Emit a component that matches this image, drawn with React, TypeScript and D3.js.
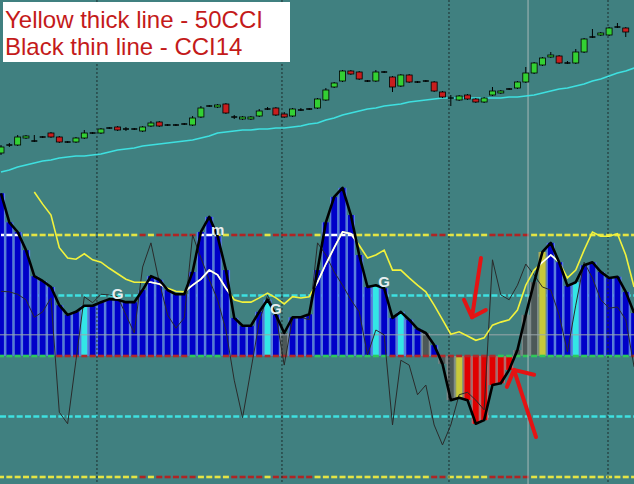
import React from "react";
import * as d3 from "d3";

const width = 634;
const height = 484;

// top pane candles (price units, bigger = higher)
const candleOpen = [17, 25, 25, 32, 29, 33, 37, 33, 28, 28, 32, 37, 37, 42, 43, 41, 41, 39, 44, 48, 45, 45, 46, 45, 53, 64, 63, 66, 53, 51, 51, 54, 61, 62, 56, 54, 60, 61, 62, 70, 83, 89, 99, 98, 89, 89, 98, 93, 84, 95, 88, 89, 88, 78, 72, 70, 75, 71, 68, 75, 77, 81, 82, 88, 97, 105, 113, 114, 107, 107, 118, 133, 135, 135, 143, 142];
const candleClose = [23, 25, 33, 34, 29, 33, 33, 28, 28, 32, 37, 37, 41, 42, 40, 41, 41, 43, 47, 44, 45, 45, 46, 52, 62, 64, 65, 57, 53, 53, 53, 59, 61, 55, 53, 61, 60, 61, 71, 80, 87, 99, 96, 91, 89, 98, 98, 83, 95, 88, 88, 89, 79, 73, 72, 74, 71, 68, 72, 79, 79, 81, 88, 97, 107, 112, 115, 107, 107, 118, 131, 133, 137, 142, 143, 138];
const candleHigh = [25, 27, 35, 35, 35, 34, 38, 34, 29, 33, 40, 38, 42, 43, 44, 43, 42, 44, 49, 49, 46, 46, 47, 54, 64, 65, 66, 67, 55, 54, 54, 61, 63, 63, 58, 62, 62, 62, 72, 82, 88, 100, 100, 99, 90, 100, 99, 94, 96, 96, 89, 90, 89, 79, 75, 75, 76, 72, 73, 83, 80, 82, 89, 103, 108, 113, 118, 115, 109, 121, 132, 141, 138, 143, 147, 143];
const candleLow = [15, 23, 24, 31, 28, 32, 32, 27, 27, 27, 31, 36, 36, 41, 39, 39, 40, 38, 43, 43, 44, 44, 45, 44, 52, 63, 62, 56, 51, 50, 50, 53, 60, 54, 52, 53, 59, 60, 61, 69, 82, 88, 95, 90, 88, 88, 97, 78, 83, 87, 87, 88, 78, 72, 64, 69, 70, 67, 67, 74, 76, 80, 81, 87, 96, 104, 112, 106, 106, 106, 117, 132, 134, 134, 142, 133];
const maPrice = [-2, 0, 3, 5, 7, 9, 10, 12, 13, 14, 14, 15, 16, 18, 20, 21, 22, 24, 25, 26, 27, 28, 29, 30, 32, 34, 37, 38, 39, 40, 40, 41, 41, 42, 42, 43, 44, 46, 47, 50, 52, 55, 57, 59, 61, 62, 64, 65, 66, 68, 69, 70, 71, 72, 72, 72, 72, 72, 72, 72, 72, 73, 73, 74, 75, 77, 79, 81, 82, 84, 86, 89, 91, 94, 97, 99, 102];

// lower pane: histogram CCI (thick black), CCI14 (thin), 50CCI (yellow)
const cciHist = [269, 221, 205, 175, 132, 124, 114, 84, 68, 73, 83, 83, 89, 94, 93, 89, 89, 109, 132, 126, 109, 102, 102, 139, 205, 230, 198, 142, 63, 50, 50, 73, 93, 68, 38, 64, 64, 69, 142, 221, 263, 278, 233, 167, 114, 117, 112, 63, 73, 60, 45, 38, 18, -13, -73, -69, -73, -112, -106, -48, -45, -23, 10, 68, 122, 172, 187, 155, 116, 122, 150, 155, 139, 129, 131, 106, 71];
const cci14 = [107, 106, 102, 93, 64, 73, 96, -93, -112, -7, 98, 88, 102, 101, 98, 68, 38, 147, 187, 122, 68, 46, 63, 200, 162, 126, 93, 43, -40, -102, -23, 56, 101, 68, -15, 63, 64, 60, 187, 167, 139, 117, 93, 73, 2, 43, 35, -114, -7, -15, -64, -48, -114, -147, -114, -64, -60, -73, -89, 159, 101, 93, 117, 152, 134, 114, 109, 68, 7, 84, 155, 129, 93, 79, 81, 60, -18];
const cci50 = [null, null, null, null, 271, 251, 233, 179, 162, 160, 169, 159, 155, 145, 136, 127, 122, 122, 122, 119, 112, 107, 106, 117, 127, 142, 134, 112, 93, 89, 89, 96, 104, 96, 86, 98, 96, 98, 122, 152, 179, 205, 202, 183, 162, 167, 175, 142, 142, 129, 117, 106, 84, 60, 36, 40, 33, 26, 30, 51, 56, 60, 76, 117, 142, 155, 167, 155, 129, 142, 175, 205, 198, 198, 202, 167, 114];

// B blue, C cyan, D gray, Y yellow, R red
const barKind = ("BBBBBBBBBB" + "C" + "BBBBBBBBBBBBBBBBBBBBB" + "C" + "B" + "D" + "BBBBBBBBBB" + "C" + "BB" + "C" + "BB" + "D" + "B" + "DD" + "Y" + "RRRRRR" + "DDD" + "Y" + "BBB" + "C" + "BBBBBBB").split("");
const zeroLineKind = ("GGGGGGG" + "RRRRRRRRRRRRRRRR" + "GGGG" + "RRRRRRRRRRR" + "GGGGGGGGG" + "RRRRRRRRRRRRR" + "GGGGGGGGGGGGGGGG" + "R").split("");
const extremeKind = ("YYYYYYYYYYYYYYYYY" + "R" + "Y" + "RRRRR" + "YYYY" + "RRRR" + "Y" + "RRRRR" + "YYYYYYYYYYYYYY" + "RR" + "YYYYY" + "RRRRR" + "YYYYYYYYYYYYY").split("");

const cyanLevels = [100, -100];
const grayLevel = 35;
const dottedSeparators = [11.52, 33.73, 53.78, 72.87];
const solidSeparators = [63.27];

const labelIdx = [14, 26, 33, 46];
const labelText = ["G", "m", "G", "G"];

const arrowLines = [
  [[57.62, 162], [56.54, 64]],
  [[55.58, 93], [56.54, 64], [58.2, 76]],
  [[64.23, -134], [61.58, -23]],
  [[60.74, -51], [61.58, -23], [63.99, -31]],
];

const legendLines = ["Yellow thick line - 50CCI", "Black thin line - CCI14"];

const barColors = {
  B: ["#0000c8", "#5b7ee0"],
  C: ["#33e6e6", "#5b7ee0"],
  D: ["#4c5858", "#7f8a8a"],
  Y: ["#c8c83a", "#8a9a70"],
  R: ["#e00000", "#b86a6a"],
};

const App = () => {
  const n = cciHist.length;
  const x = d3.scaleLinear().domain([0, n - 1]).range([1, 1 + (n - 1) * 8.33]);
  const yP = d3.scaleLinear().domain([0, 170]).range([170, 0]);
  const yC = d3.scaleLinear().domain([-200, 200]).range([477, 235]);
  const step = x(1) - x(0);
  const y0 = yC(0);

  const cciLine = d3.line<number>().x((d, i) => x(i)).y((d) => yC(d));
  const cci50Line = d3
    .line<number | null>()
    .defined((d) => d != null)
    .x((d, i) => x(i))
    .y((d) => yC(d as number));
  const maLine = d3.line<number>().x((d, i) => x(i)).y((d) => yP(d));
  const histArea = d3.area<number>().x((d, i) => x(i)).y0(y0).y1((d) => yC(d));

  const dashSeg = (i) => [x(i) - 3, x(i) + 3];

  return (
    <svg
      width={width}
      height={height}
      style={{ position: "absolute", left: 0, top: 0, background: "#408080" }}
    >
      <defs>
        <clipPath id="histClip">
          <path d={histArea(cciHist) || ""} />
        </clipPath>
      </defs>
      <rect width={width} height={height} fill="#408080" />

      {/* level dashes (behind bars) */}
      {[200, -200].map((lv) =>
        extremeKind.map((k, i) => (
          <line
            key={lv + "-" + i}
            x1={dashSeg(i)[0]}
            x2={dashSeg(i)[1]}
            y1={yC(lv)}
            y2={yC(lv)}
            stroke={k === "Y" ? "#e4e444" : "#b02424"}
            strokeWidth={2.6}
          />
        ))
      )}
      {cyanLevels.map((lv) => (
        <line
          key={lv}
          x1={0}
          x2={width}
          y1={yC(lv)}
          y2={yC(lv)}
          stroke="#3ee0e0"
          strokeWidth={2.4}
          strokeDasharray="6,2.33"
        />
      ))}

      {/* histogram */}
      {cciHist.map((v, i) => {
        const [dark, light] = barColors[barKind[i]];
        const top = Math.min(yC(v), y0);
        const h = Math.abs(yC(v) - y0);
        return (
          <g key={"bar" + i}>
            <rect x={x(i) - step / 2} y={top} width={step} height={h} fill={light} />
            <rect x={x(i) - 2.9} y={top} width={5.8} height={h} fill={dark} />
          </g>
        );
      })}

      {/* zero line */}
      {zeroLineKind.map((k, i) => (
        <line
          key={"z" + i}
          x1={dashSeg(i)[0]}
          x2={dashSeg(i)[1]}
          y1={y0}
          y2={y0}
          stroke={k === "G" ? "#2ec85a" : "#b02a2a"}
          strokeWidth={2.6}
        />
      ))}
      <line x1={0} x2={width} y1={yC(grayLevel)} y2={yC(grayLevel)} stroke="#9aa6aa" strokeWidth={1} />

      {/* separators */}
      {dottedSeparators.map((s) => (
        <line key={"ds" + s} x1={x(s)} x2={x(s)} y1={0} y2={height} stroke="#1c2c2c" strokeWidth={1} strokeDasharray="2,2" />
      ))}
      {solidSeparators.map((s) => (
        <line key={"ss" + s} x1={x(s)} x2={x(s)} y1={0} y2={height} stroke="#a8b8b8" strokeWidth={1} />
      ))}

      {/* white copy of +200 dashes inside histogram */}
      <g clipPath="url(#histClip)">
        {extremeKind.map((k, i) =>
          k === "Y" ? (
            <line
              key={"w" + i}
              x1={dashSeg(i)[0]}
              x2={dashSeg(i)[1]}
              y1={yC(200)}
              y2={yC(200)}
              stroke="#ffffff"
              strokeWidth={2.6}
            />
          ) : null
        )}
      </g>

      {/* CCI14 thin */}
      <path d={cciLine(cci14) || ""} fill="none" stroke="#2a2a2a" strokeWidth={1} />

      {/* 50CCI yellow, white inside histogram */}
      <path d={cci50Line(cci50) || ""} fill="none" stroke="#f2f23c" strokeWidth={1.6} />
      <path d={cci50Line(cci50) || ""} fill="none" stroke="#ffffff" strokeWidth={1.6} clipPath="url(#histClip)" />

      {/* thick black */}
      <path d={cciLine(cciHist) || ""} fill="none" stroke="#000" strokeWidth={2.6} strokeLinejoin="round" />

      {labelIdx.map((li, k) => (
        <text
          key={"lb" + k}
          x={x(li)}
          y={yC(cciHist[li]) - 1}
          textAnchor="middle"
          fontFamily="Arial, 'Liberation Sans', sans-serif"
          fontWeight="bold"
          fontSize={15}
          fill="#e8eef0"
        >
          {labelText[k]}
        </text>
      ))}

      {/* top pane: MA and candles */}
      <path d={maLine(maPrice) || ""} fill="none" stroke="#3ee0e0" strokeWidth={1.6} />
      {candleOpen.map((o, i) => {
        const c = candleClose[i];
        const cx = x(i);
        const bodyTop = yP(Math.max(o, c));
        const bodyH = Math.abs(yP(o) - yP(c));
        const fill = c > o ? "#33d033" : c < o ? "#c81e1e" : "#000";
        return (
          <g key={"c" + i}>
            <line x1={cx} x2={cx} y1={yP(candleHigh[i])} y2={yP(candleLow[i])} stroke="#000" strokeWidth={1} />
            {bodyH > 0 ? (
              <rect x={cx - 3} y={bodyTop} width={6} height={bodyH} fill={fill} stroke="#000" strokeWidth={0.8} />
            ) : (
              <line x1={cx - 3} x2={cx + 3} y1={bodyTop} y2={bodyTop} stroke="#000" strokeWidth={1.5} />
            )}
          </g>
        );
      })}

      {/* annotations */}
      {arrowLines.map((pts, k) => (
        <polyline
          key={"ar" + k}
          points={pts.map((p) => `${x(p[0])},${yC(p[1])}`).join(" ")}
          fill="none"
          stroke="#e41414"
          strokeWidth={4}
          strokeLinecap="round"
          strokeLinejoin="round"
        />
      ))}

      <rect x={3} y={2} width={287} height={60} fill="#ffffff" />
      {legendLines.map((t, k) => (
        <text
          key={"lg" + k}
          x={5}
          y={28 + k * 27}
          fontFamily="Arial, 'Liberation Sans', sans-serif"
          fontSize={24}
          fill="#c41a1a"
        >
          {t}
        </text>
      ))}
    </svg>
  );
};

export default App;
